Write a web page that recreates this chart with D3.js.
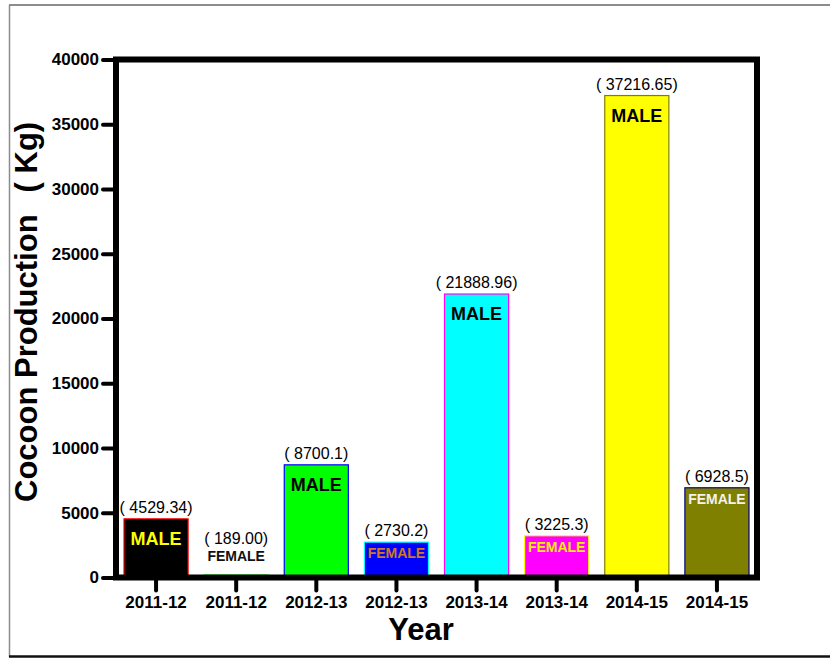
<!DOCTYPE html>
<html>
<head>
<meta charset="utf-8">
<script src="https://cdn.jsdelivr.net/npm/d3@7/dist/d3.min.js"></script>
<style>
  html, body { margin: 0; padding: 0; background: #fff; }
  svg { display: block; font-family: Arial, "Liberation Sans", sans-serif; }
</style>
</head>
<body>
<svg id="chart" width="830" height="659"></svg>
<script>
// Cocoon production by year and sex
const years = ["2011-12", "2011-12", "2012-13", "2012-13", "2013-14", "2013-14", "2014-15", "2014-15"];
const sexes = ["MALE", "FEMALE", "MALE", "FEMALE", "MALE", "FEMALE", "MALE", "FEMALE"];
const valueText = ["4529.34", "189.00", "8700.1", "2730.2", "21888.96", "3225.3", "37216.65", "6928.5"];
const values = valueText.map(Number);
const yTicks = [0, 5000, 10000, 15000, 20000, 25000, 30000, 35000, 40000];

// Bar styling: fill, outline, and colour of the sex label
const fills = ["#000000", "#ff0000", "#00ff00", "#0000ff", "#00ffff", "#ff00ff", "#ffff00", "#808000"];
const strokes = ["#ff0000", "#00ff00", "#0000ff", "#00ffff", "#ff00ff", "#ffff00", "#808000", "#000080"];
const sexColors = ["#ffff00", "#111111", "#000000", "#d2781e", "#000000", "#f0f000", "#000000", "#f2f2f2"];

const svg = d3.select("#chart");
const plot = { left: 116, right: 757, top: 59.5, bottom: 577.5 };

// Outer frame
svg.append("line").attr("x1", 9).attr("x2", 830).attr("y1", 5).attr("y2", 5)
  .attr("stroke", "#8c8c8c").attr("stroke-width", 2);
svg.append("line").attr("x1", 9.5).attr("x2", 9.5).attr("y1", 5).attr("y2", 657)
  .attr("stroke", "#8c8c8c").attr("stroke-width", 1.5);
svg.append("line").attr("x1", 9).attr("x2", 830).attr("y1", 656.5).attr("y2", 656.5)
  .attr("stroke", "#111").attr("stroke-width", 2.5);

const idx = d3.range(years.length);
const x = d3.scaleBand()
  .domain(idx)
  .range([plot.left, plot.right])
  .paddingInner(0.2)
  .paddingOuter(0.1);

const y = d3.scaleLinear()
  .domain([0, 40000])
  .range([plot.bottom, plot.top]);

// Bars
svg.append("g").selectAll("rect")
  .data(idx)
  .join("rect")
  .attr("x", i => x(i))
  .attr("width", x.bandwidth())
  .attr("y", i => y(values[i]))
  .attr("height", i => y(0) - y(values[i]))
  .attr("fill", i => fills[i])
  .attr("stroke", i => strokes[i])
  .attr("stroke-width", 1.2);

// Axes
const yAxis = svg.append("g")
  .attr("transform", `translate(${plot.left},0)`)
  .call(d3.axisLeft(y).tickValues(yTicks).tickFormat(d3.format("d")).tickSize(13).tickPadding(4));
yAxis.select(".domain").remove();
yAxis.selectAll(".tick line").attr("stroke", "#000").attr("stroke-width", 4).attr("stroke-linecap", "round");
yAxis.selectAll(".tick text")
  .attr("font-family", "Arial, 'Liberation Sans', sans-serif")
  .attr("font-size", 17).attr("font-weight", "bold").attr("fill", "#000");

const xAxis = svg.append("g")
  .attr("transform", `translate(0,${plot.bottom})`)
  .call(d3.axisBottom(x).tickFormat(i => years[i]).tickSize(13).tickPadding(5));
xAxis.select(".domain").remove();
xAxis.selectAll(".tick line").attr("stroke", "#000").attr("stroke-width", 4).attr("stroke-linecap", "round");
xAxis.selectAll(".tick text")
  .attr("font-family", "Arial, 'Liberation Sans', sans-serif")
  .attr("font-size", 17).attr("font-weight", "bold").attr("fill", "#000");

// Plot box
svg.append("rect")
  .attr("x", plot.left).attr("y", plot.top)
  .attr("width", plot.right - plot.left).attr("height", plot.bottom - plot.top)
  .attr("fill", "none").attr("stroke", "#000").attr("stroke-width", 6);

// Value and sex labels
const labels = svg.append("g");
idx.forEach(i => {
  const cx = x(i) + x.bandwidth() / 2;
  const top = y(values[i]);
  const isMale = sexes[i] === "MALE";
  const small = (y(0) - top) < 20;
  let valueY;
  if (small) {
    const sexY = top - 14;
    labels.append("text").attr("x", cx).attr("y", sexY)
      .attr("text-anchor", "middle").attr("font-size", 14).attr("font-weight", "bold")
      .attr("fill", sexColors[i]).text(sexes[i]);
    valueY = sexY - 17;
  } else {
    labels.append("text").attr("x", cx).attr("y", top + (isMale ? 26 : 16))
      .attr("text-anchor", "middle").attr("font-size", isMale ? 18 : 14).attr("font-weight", "bold")
      .attr("fill", sexColors[i]).text(sexes[i]);
    valueY = top - 6;
  }
  labels.append("text").attr("x", cx).attr("y", valueY)
    .attr("text-anchor", "middle").attr("font-size", 16).attr("fill", "#000")
    .text(`( ${valueText[i]})`);
});

// Axis titles
svg.append("text")
  .attr("transform", "translate(37,502) rotate(-90)")
  .attr("font-size", 31).attr("font-weight", "bold").attr("fill", "#000")
  .call(t => {
    t.append("tspan").text("Cocoon Production");
    t.append("tspan").attr("dx", 22).text("( Kg)");
  });

svg.append("text")
  .attr("x", 421).attr("y", 640)
  .attr("text-anchor", "middle")
  .attr("font-size", 31).attr("font-weight", "bold").attr("fill", "#000")
  .text("Year");
</script>
</body>
</html>
